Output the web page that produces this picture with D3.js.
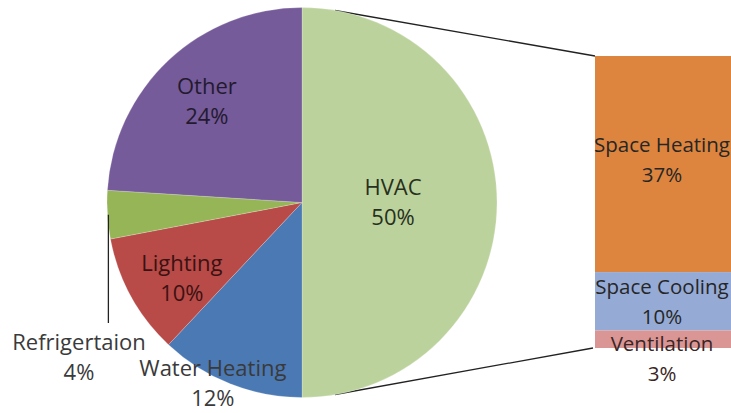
<!DOCTYPE html>
<html>
<head>
<meta charset="utf-8">
<script src="https://cdn.jsdelivr.net/npm/d3@7"></script>
<style>
  html, body { margin: 0; padding: 0; background: #fff; }
  svg { display: block; }
  text { font-family: "Open Sans", Lato, sans-serif; }
</style>
</head>
<body>
<svg id="chart" width="731" height="413"></svg>
<script>
// ---- data ----
const pieCategories = ["HVAC", "Water Heating", "Lighting", "Refrigertaion", "Other"];
const pieValues = [50, 12, 10, 4, 24];
const barCategories = ["Space Heating", "Space Cooling", "Ventilation"];
const barValues = [37, 10, 3];

// ---- styling / layout ----
const pieColors = ["#bcd29c", "#4a79b3", "#b84a48", "#95b556", "#755b99"];
const barColors = ["#dd843f", "#95abd6", "#d99694"];
const cx = 302, cy = 202.5, R = 195;
const barX = 595, barW = 140, barTop = 56, barBottom = 348;
const fontSize = 22;
const barFontSize = 20.5;
const lineGap = 30;

const svg = d3.select("#chart");

const pie = d3.pie().sort(null).value(d => d)
  .startAngle(0).endAngle(2 * Math.PI);
const arcs = pie(pieValues);
const arc = d3.arc().innerRadius(0).outerRadius(R);

// bar scale
const y = d3.scaleLinear().domain([0, d3.sum(barValues)]).range([barTop, barBottom]);
let cum = 0;
const barStack = barValues.map((v, i) => {
  const s = { name: barCategories[i], value: v, y0: cum, y1: cum + v };
  cum += v;
  return s;
});

// connector lines (drawn beneath pie)
const hv = arcs[0];
const topPt = [cx + R * Math.sin(hv.startAngle), cy - R * Math.cos(hv.startAngle)];
const botPt = [cx + R * Math.sin(hv.endAngle), cy - R * Math.cos(hv.endAngle)];
svg.append("line")
  .attr("x1", topPt[0] + 33).attr("y1", topPt[1] + 3)
  .attr("x2", barX).attr("y2", y(0))
  .attr("stroke", "#222").attr("stroke-width", 1.3);
svg.append("line")
  .attr("x1", botPt[0] + 33).attr("y1", botPt[1] - 3)
  .attr("x2", barX - 2).attr("y2", y(d3.sum(barValues)))
  .attr("stroke", "#222").attr("stroke-width", 1.3);

// pie
const g = svg.append("g").attr("transform", `translate(${cx},${cy})`);
g.selectAll("path").data(arcs).join("path")
  .attr("d", arc)
  .attr("fill", (d, i) => pieColors[i])
  .attr("stroke", "rgba(255,255,255,0.35)")
  .attr("stroke-width", 0.6);

// bar
svg.selectAll("rect.bar").data(barStack).join("rect")
  .attr("class", "bar")
  .attr("x", barX)
  .attr("y", d => y(d.y0))
  .attr("width", barW)
  .attr("height", d => y(d.y1) - y(d.y0))
  .attr("fill", (d, i) => barColors[i]);

// label helper
function label(x, yc, lines, color, fs, gap) {
  const t = svg.append("text")
    .attr("text-anchor", "middle")
    .attr("font-size", fs || fontSize)
    .attr("fill", color);
  lines.forEach((ln, k) => {
    t.append("tspan").attr("x", x).attr("y", yc + k * (gap || lineGap)).attr("dy", "0.35em").text(ln);
  });
}

// pie labels: polar positions (radius, angle offset) relative to slice mid-angle
const pieLabelPos = [
  { r: 91, da: 0 },
  { r: 202, da: 0.08 },
  { r: 142, da: -0.06 },
  null,
  { r: 139, da: 0 }
];
const pieTextColor = ["#27301c", "#3a3a3a", "#3a1212", "#3a3a3a", "#241a30"];
arcs.forEach((a, i) => {
  const txt = [pieCategories[i], a.value + "%"];
  if (pieLabelPos[i]) {
    const mid = (a.startAngle + a.endAngle) / 2 + pieLabelPos[i].da;
    const lx = cx + pieLabelPos[i].r * Math.sin(mid);
    const ly = cy - pieLabelPos[i].r * Math.cos(mid);
    label(lx, ly - lineGap / 2, txt, pieTextColor[i]);
  } else {
    // refrigeration label outside with leader line
    const mid = (a.startAngle + a.endAngle) / 2;
    const ex = cx + R * Math.sin(mid) + 1;
    const ey = cy - R * Math.cos(mid);
    svg.append("line")
      .attr("x1", ex).attr("y1", ey)
      .attr("x2", ex).attr("y2", 323)
      .attr("stroke", "#222").attr("stroke-width", 1.3);
    label(79, 342, txt, "#3a3a3a");
  }
});

// bar labels
const barLabelY = [145, 287, 344];
barStack.forEach((b, i) => {
  label(barX + 67, barLabelY[i], [b.name, b.value + "%"], i === 2 ? "#3a2525" : "#262626", barFontSize, 30);
});
</script>
</body>
</html>
